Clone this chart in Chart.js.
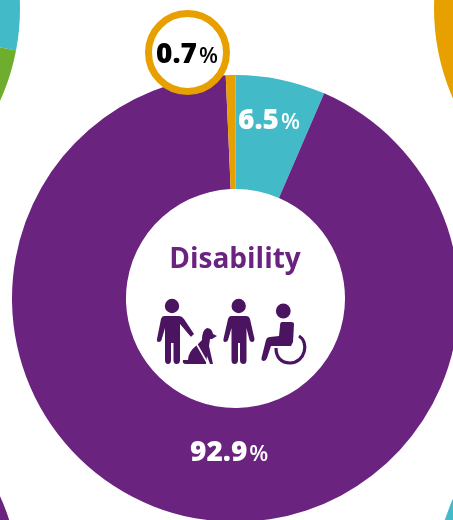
<!DOCTYPE html>
<html>
<head>
<meta charset="utf-8">
<title>Disability</title>
<script src="https://cdn.jsdelivr.net/npm/chart.js@4"></script>
<style>
    html, body { margin: 0; padding: 0; background: #fff; }
    #page { position: relative; width: 453px; height: 520px; overflow: hidden; }
    #page canvas { position: absolute; }
    #icons { position: absolute; left: 0; top: 0; }
</style>
</head>
<body>
<div id="page">
    <canvas id="top-left" width="447" height="447" style="left:-427px;top:-215px"></canvas>
    <canvas id="top-right" width="447" height="447" style="left:434px;top:-215px"></canvas>
    <canvas id="bottom-left" width="447" height="447" style="left:-427px;top:365px"></canvas>
    <canvas id="bottom-right" width="447" height="447" style="left:434px;top:365px"></canvas>
    <canvas id="main" width="459" height="522" style="left:0;top:0"></canvas>

    <!-- pictogram under the title -->
    <svg id="icons" width="453" height="520" fill="#4a1460">
        <defs>
            <path id="person" d="M231 316 L246 316 Q249 316 250 319 L254.5 339 Q254.5 342 252 342 Q250 342 249.5 340 L246.5 328 L246.5 360 Q246.5 364 243.5 364 Q240 364 240 360 L240 343 L238 343 L238 360 Q238 364 234.5 364 Q231.5 364 231.5 360 L231.5 328 L228 340 Q227.5 342 225 342 Q223 342 223.5 339 L228 319 Q229 316 231 316Z"/>
        </defs>

        <!-- person with guide dog -->
        <circle cx="172" cy="306" r="7.2"/>
        <path d="M164 316 L179 316 Q182 316 184 319 L194 334 L191 337 L180 324 L180 360 Q180 364 176.5 364 Q173.5 364 173.5 360 L173.5 343 L171 343 L171 360 Q171 364 168 364 Q165 364 165 360 L165 328 L161.5 340 Q161 342 158.5 342 Q156.5 342 157 339 L161 319 Q162 316 164 316Z"/>
        <path d="M207 328 Q212 328 213 334 L217 336 L212 339 L210 339 L209 346 L213 364 L210 364 L207 356 L206 364 L186 364 Q182 364 183 360 L188 360 Q188 352 197 345 L202 340 Q202 330 207 328Z"/>
        <path d="M192 336 L208 364" stroke="#fff" stroke-width="1.6" fill="none"/>

        <!-- standing person -->
        <circle cx="238.7" cy="306" r="7.2"/>
        <use href="#person"/>

        <!-- wheelchair user -->
        <circle cx="283.3" cy="311" r="7.4"/>
        <path d="M282 322 Q280 322 280 326 L279 336 L270 337 Q267 337 266 340 L261.5 358 Q261 361 264 361 Q266 361 267 358 L271 346 L291 346 L293 342 L294 324 Q294 322 291 322Z"/>
        <path d="M299 336 C309 342 306 362 290 363 C281 363 276 357 276 348" fill="none" stroke="#4a1460" stroke-width="3.2"/>
    </svg>
</div>

<script>
    // main ring
    const main_labels = ["Teal share", "Purple share", "Orange share"];
    const main_values = [6.5, 92.9, 0.7];
    const main_colours = ["#43bac8", "#6b2380", "#e8a000"];

    // rings cut off by the page edges, only a part of each one shows
    const top_left_values = [28, 72];
    const top_left_colours = ["#43bac8", "#6fae2c"];
    const top_right_values = [100];
    const top_right_colours = ["#e8a000"];
    const bottom_left_values = [100];
    const bottom_left_colours = ["#6b2380"];
    const bottom_right_values = [80, 20];
    const bottom_right_colours = ["#6b2380", "#43bac8"];

    const title_text = "Disability";
    const percent_sign = "%";
    const teal_label = "6.5";
    const purple_label = "92.9";
    const orange_label = "0.7";

    const font_family = "'Open Sans', sans-serif";

    // number in a big font with a smaller percent sign after it
    function drawPercent(ctx, text, x, y, colour, size) {
        ctx.fillStyle = colour;
        ctx.textAlign = "left";
        ctx.textBaseline = "alphabetic";
        ctx.font = "800 " + size + "px " + font_family;
        ctx.fillText(text, x, y);
        const width = ctx.measureText(text).width;
        ctx.font = "600 " + Math.round(size * 0.8) + "px " + font_family;
        ctx.fillText(percent_sign, x + width + 2, y);
    }

    const label_plugin = {
        id: "ringLabels",
        afterDraw(chart) {
            const ctx = chart.ctx;
            ctx.save();

            // callout circle for the smallest slice
            ctx.beginPath();
            ctx.arc(187.5, 52.5, 39, 0, Math.PI * 2);
            ctx.fillStyle = "#fff";
            ctx.fill();
            ctx.lineWidth = 7;
            ctx.strokeStyle = "#e8a000";
            ctx.stroke();

            drawPercent(ctx, orange_label, 156, 63, "#000", 28);
            drawPercent(ctx, teal_label, 238, 129, "#fff", 28);
            drawPercent(ctx, purple_label, 190, 461, "#fff", 28);

            ctx.fillStyle = "#6b2380";
            ctx.textAlign = "center";
            ctx.font = "700 28px " + font_family;
            ctx.fillText(title_text, 235, 268);

            ctx.restore();
        }
    };

    function createRing({canvas_id, labels, values, colours, padding, plugins}) {
        const ctx_ring = document.getElementById(canvas_id).getContext("2d");

        return new Chart(ctx_ring, {
            type: "doughnut",
            data: {
                labels: labels,
                datasets: [{
                    data: values,
                    backgroundColor: colours,
                    borderWidth: 0
                }]
            },
            options: {
                responsive: false,
                animation: false,
                cutout: "49%",
                layout: { padding: padding },
                plugins: {
                    legend: { display: false },
                    tooltip: { enabled: false }
                }
            },
            plugins: plugins
        });
    }

    createRing({canvas_id: "top-left", labels: ["Teal", "Green"], values: top_left_values, colours: top_left_colours, padding: 0, plugins: []});
    createRing({canvas_id: "top-right", labels: ["Orange"], values: top_right_values, colours: top_right_colours, padding: 0, plugins: []});
    createRing({canvas_id: "bottom-left", labels: ["Purple"], values: bottom_left_values, colours: bottom_left_colours, padding: 0, plugins: []});
    createRing({canvas_id: "bottom-right", labels: ["Purple", "Teal"], values: bottom_right_values, colours: bottom_right_colours, padding: 0, plugins: []});

    createRing({
        canvas_id: "main",
        labels: main_labels,
        values: main_values,
        colours: main_colours,
        padding: {left: 12, top: 75},   // ring runs off the right and bottom edges
        plugins: [label_plugin]
    });
</script>
</body>
</html>
